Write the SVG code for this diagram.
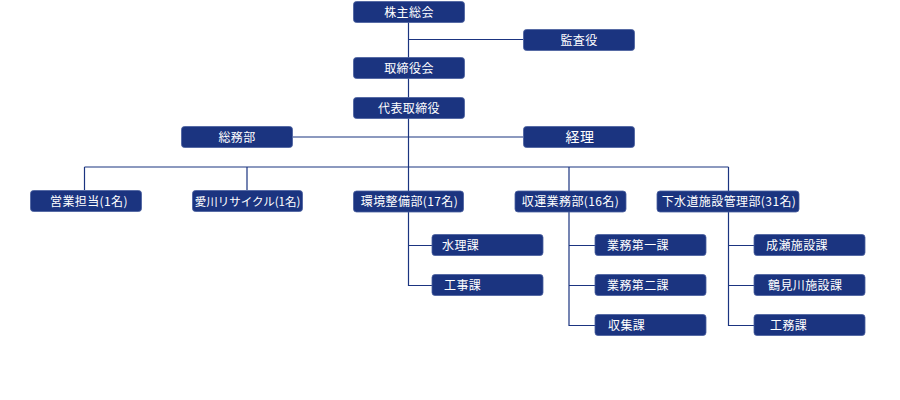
<svg xmlns="http://www.w3.org/2000/svg" width="900" height="400" viewBox="0 0 900 400">
<style>
.b{fill:#1b3480;stroke:#4a5f9e;stroke-width:0.8}
.t{fill:#fff;font-family:"Noto Sans CJK JP","Noto Sans",sans-serif;font-size:12px;letter-spacing:0.4px}
.p{letter-spacing:0;font-size:11.5px}
.c{text-anchor:middle}
.l{fill:none;stroke:#1b3480;stroke-width:1.2}
</style>
<rect width="900" height="400" fill="#fff"/>
<g id="connectors" class="l">
<path d="M408.5 22V212"/>
<path d="M408.5 39.5H523"/>
<path d="M293 137H523"/>
<path d="M84.5 167H728.5"/>
<path d="M84.5 167V190M247 167V190M569 167V191M728.5 167V191"/>
<path d="M408.5 212V285.5H432M408.5 245.5H432"/>
<path d="M569 212V325.5H595M569 245.5H595M569 285.5H595"/>
<path d="M728.5 212V325.5H754M728.5 245.5H754M728.5 285.5H754"/>
</g>
<g id="n1"><rect class="b" x="353.5" y="1.5" width="111" height="21" rx="3"/><text class="t c" x="409" y="16.5">株主総会</text></g>
<g id="n2"><rect class="b" x="523.5" y="29.5" width="111" height="21" rx="3"/><text class="t c" x="579" y="44.5">監査役</text></g>
<g id="n3"><rect class="b" x="353.5" y="57.5" width="111" height="21" rx="3"/><text class="t c" x="409" y="72.5">取締役会</text></g>
<g id="n4"><rect class="b" x="353.5" y="97.5" width="111" height="21" rx="3"/><text class="t c" x="409" y="112.5">代表取締役</text></g>
<g id="n5"><rect class="b" x="181.5" y="126.5" width="111" height="21" rx="3"/><text class="t c" x="237" y="141.5">総務部</text></g>
<g id="n6"><rect class="b" x="523.5" y="126.5" width="111" height="21" rx="3"/><text class="t c" x="580" y="142" style="font-size:14px">経理</text></g>
<g id="n7"><rect class="b" x="30.5" y="190.5" width="111" height="21" rx="3"/><text class="t c" x="89" y="205.5">営業担当(1名)</text></g>
<g id="n8"><rect class="b" x="192.5" y="190.5" width="110" height="21" rx="3"/><text class="t c p" x="247.5" y="205.5">愛川リサイクル(1名)</text></g>
<g id="n9"><rect class="b" x="353.5" y="191" width="110" height="21" rx="3"/><text class="t c" x="409.5" y="206">環境整備部(17名)</text></g>
<g id="n10"><rect class="b" x="515" y="191" width="111" height="21" rx="3"/><text class="t c" x="570.5" y="206">収運業務部(16名)</text></g>
<g id="n11"><rect class="b" x="657" y="191" width="142" height="21" rx="3"/><text class="t c" x="729" y="206">下水道施設管理部(31名)</text></g>
<g id="n12"><rect class="b" x="432" y="234.5" width="111" height="21" rx="3"/><text class="t" x="442" y="249.5">水理課</text></g>
<g id="n13"><rect class="b" x="432" y="274.5" width="111" height="21" rx="3"/><text class="t" x="444" y="289.5">工事課</text></g>
<g id="n14"><rect class="b" x="595" y="234.5" width="111" height="21" rx="3"/><text class="t" x="607" y="249.5">業務第一課</text></g>
<g id="n15"><rect class="b" x="595" y="274.5" width="111" height="21" rx="3"/><text class="t" x="607" y="289.5">業務第二課</text></g>
<g id="n16"><rect class="b" x="595" y="314.5" width="111" height="21" rx="3"/><text class="t" x="608" y="329.5">収集課</text></g>
<g id="n17"><rect class="b" x="754" y="234.5" width="111" height="21" rx="3"/><text class="t" x="766" y="249.5">成瀬施設課</text></g>
<g id="n18"><rect class="b" x="754" y="274.5" width="111" height="21" rx="3"/><text class="t" x="768" y="289.5">鶴見川施設課</text></g>
<g id="n19"><rect class="b" x="754" y="314.5" width="111" height="21" rx="3"/><text class="t" x="770" y="329.5">工務課</text></g>
</svg>
